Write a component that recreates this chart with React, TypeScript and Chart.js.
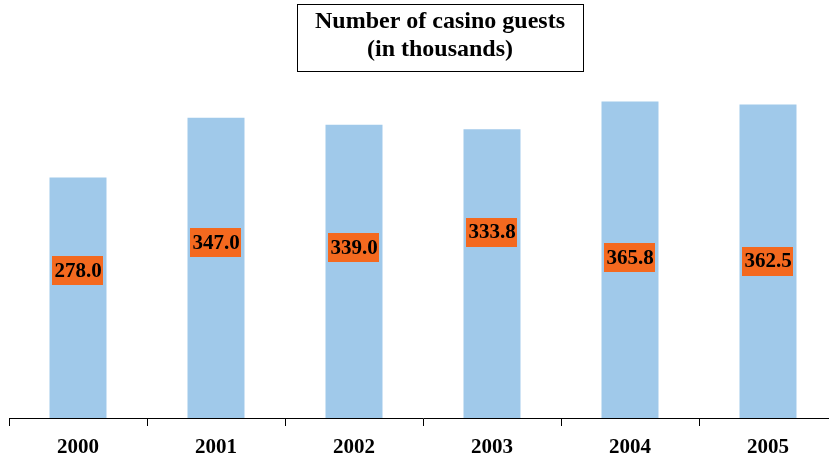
import React, { useEffect, useRef } from "react";
import { Chart, registerables } from "chart.js";

Chart.register(...registerables);

const years = ["2000", "2001", "2002", "2003", "2004", "2005"];
const guests = [278.0, 347.0, 339.0, 333.8, 365.8, 362.5];
// level (in data units) at which each value label sits inside its bar
const labelLevels = [170, 203, 197, 215, 185, 181.5];
const titleLines = ["Number of casino guests", "(in thousands)"];

const FONT = '"Liberation Serif", "Times New Roman", serif';

const overlayPlugin = {
  id: "overlay",
  afterDatasetsDraw(chart: any) {
    const ctx = chart.ctx;
    const meta = chart.getDatasetMeta(0);
    const yScale = chart.scales.y;
    ctx.save();
    ctx.font = `bold 21px ${FONT}`;
    ctx.textAlign = "center";
    ctx.textBaseline = "middle";
    meta.data.forEach((bar: any, i: number) => {
      const text = guests[i].toFixed(1);
      const w = ctx.measureText(text).width + 4;
      const h = 29;
      const cx = bar.x;
      const cy = yScale.getPixelForValue(labelLevels[i]);
      ctx.fillStyle = "#F4691F";
      ctx.fillRect(Math.round(cx - w / 2), Math.round(cy - h / 2), Math.round(w), h);
      ctx.fillStyle = "#000";
      ctx.fillText(text, cx, cy + 1);
    });
    // title box
    const bx = 297, by = 4, bw = 286, bh = 67;
    ctx.fillStyle = "#fff";
    ctx.fillRect(bx, by, bw, bh);
    ctx.strokeStyle = "#000";
    ctx.lineWidth = 1;
    ctx.strokeRect(bx + 0.5, by + 0.5, bw, bh);
    ctx.fillStyle = "#000";
    ctx.font = `bold 24px ${FONT}`;
    ctx.fillText(titleLines[0], bx + bw / 2, 22);
    ctx.fillText(titleLines[1], bx + bw / 2, 50);
    ctx.restore();
  },
};

export default function App() {
  const ref = useRef<HTMLCanvasElement>(null);
  useEffect(() => {
    document.documentElement.style.overflow = "hidden";
    document.body.style.overflow = "hidden";
    const chart = new Chart(ref.current!, {
      type: "bar",
      data: {
        labels: years,
        datasets: [
          {
            data: guests,
            backgroundColor: "#A0C9EA",
            borderWidth: 0,
            barPercentage: 0.413,
            categoryPercentage: 1,
          },
        ],
      },
      options: {
        animation: false,
        responsive: false,
        devicePixelRatio: 1,
        layout: { padding: { left: 9, right: 0, top: 72, bottom: 0 } },
        plugins: {
          legend: { display: false },
          title: { display: false },
          tooltip: { enabled: false },
        },
        scales: {
          x: {
            offset: true,
            afterFit: (scale: any) => {
              scale.height = 38;
            },
            grid: {
              offset: true,
              drawOnChartArea: false,
              drawTicks: true,
              tickLength: 8,
              color: "#000",
              lineWidth: 1,
            },
            border: { display: true, color: "#000", width: 1 },
            ticks: {
              color: "#000",
              padding: 9,
              font: { family: FONT, size: 21, weight: "bold" },
            },
          },
          y: {
            display: false,
            min: 0,
            max: 400,
          },
        },
      },
      plugins: [overlayPlugin],
    });
    return () => chart.destroy();
  }, []);
  return (
    <div style={{ position: "fixed", left: 0, top: 0, width: 837, height: 456, background: "#fff" }}>
      <canvas ref={ref} width={837} height={456} style={{ display: "block" }} />
    </div>
  );
}
